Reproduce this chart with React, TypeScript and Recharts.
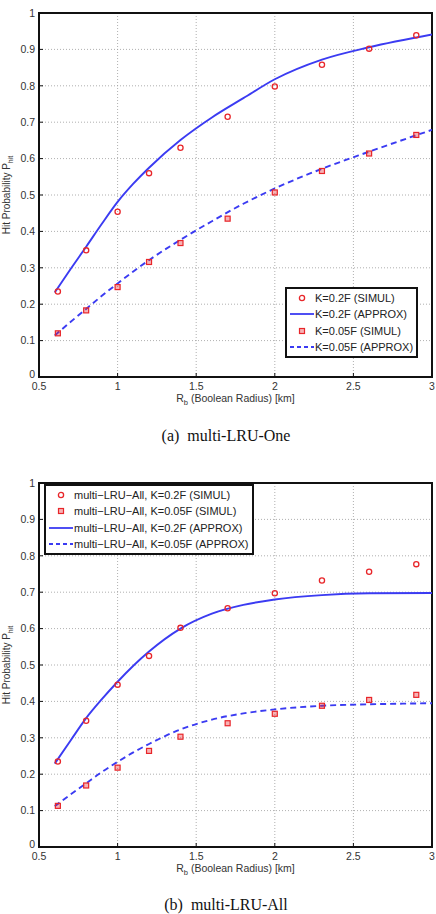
import React from "react";
import {
  CartesianGrid,
  ComposedChart,
  Legend,
  Line,
  ReferenceArea,
  Scatter,
  XAxis,
  YAxis,
} from "recharts";

// boolean radius [km] for simulated points and approximation curves
const simR = [0.62, 0.8, 1.0, 1.2, 1.4, 1.7, 2.0, 2.3, 2.6, 2.9];
const approxR = [0.6, 0.7, 0.8, 0.9, 1.0, 1.1, 1.2, 1.4, 1.6, 1.8, 2.0, 2.3, 2.6, 3.0];

// (a) multi-LRU-One
const oneSimK02 = [0.235, 0.348, 0.454, 0.56, 0.63, 0.715, 0.798, 0.858, 0.902, 0.939];
const oneSimK005 = [0.12, 0.183, 0.247, 0.316, 0.368, 0.435, 0.507, 0.566, 0.614, 0.665];
const oneApproxK02 = [0.232, 0.296, 0.358, 0.421, 0.481, 0.531, 0.575, 0.651, 0.713, 0.766, 0.818, 0.872, 0.906, 0.941];
const oneApproxK005 = [0.114, 0.151, 0.187, 0.223, 0.257, 0.29, 0.321, 0.377, 0.428, 0.476, 0.518, 0.572, 0.619, 0.679];

// (b) multi-LRU-All
const allSimK02 = [0.235, 0.347, 0.446, 0.525, 0.602, 0.656, 0.697, 0.732, 0.756, 0.777];
const allSimK005 = [0.113, 0.169, 0.218, 0.264, 0.303, 0.34, 0.366, 0.388, 0.404, 0.418];
const allApproxK02 = [0.229, 0.292, 0.354, 0.406, 0.454, 0.498, 0.537, 0.6, 0.641, 0.665, 0.68, 0.692, 0.697, 0.698];
const allApproxK005 = [0.112, 0.144, 0.175, 0.206, 0.234, 0.26, 0.283, 0.323, 0.35, 0.367, 0.378, 0.388, 0.392, 0.395];

const xTicks = [0.5, 1, 1.5, 2, 2.5, 3];
const yTicks = [0, 0.1, 0.2, 0.3, 0.4, 0.5, 0.6, 0.7, 0.8, 0.9, 1];

const oneLabels = ["K=0.2F (SIMUL)", "K=0.2F (APPROX)", "K=0.05F (SIMUL)", "K=0.05F (APPROX)"];
const allLabels = [
  "multi\u2212LRU\u2212All, K=0.2F (SIMUL)",
  "multi\u2212LRU\u2212All, K=0.05F (SIMUL)",
  "multi\u2212LRU\u2212All, K=0.2F (APPROX)",
  "multi\u2212LRU\u2212All, K=0.05F (APPROX)",
];

const RED = "#e8262a";
const BLUE = "#3b3bf2";
const FONT = "'Liberation Sans', Arial, sans-serif";

const pts = (xs: number[], ys: number[]) => xs.map((x, i) => ({ x, y: ys[i] }));

type Kind = "circle" | "square" | "solid" | "dashed";

function CircleMark(p: any) {
  return <circle cx={p.cx} cy={p.cy} r={2.6} fill="none" stroke={RED} strokeWidth={1.3} />;
}

function SquareMark(p: any) {
  return (
    <rect x={p.cx - 2.5} y={p.cy - 2.5} width={5} height={5} fill="rgba(232,38,42,0.35)" stroke={RED} strokeWidth={1.2} />
  );
}

function Icon({ kind }: { kind: Kind }) {
  return (
    <svg width={24} height={12} style={{ flex: "none" }}>
      {kind === "circle" && <circle cx={12} cy={6} r={2.6} fill="none" stroke={RED} strokeWidth={1.3} />}
      {kind === "square" && (
        <rect x={9.5} y={3.5} width={5} height={5} fill="rgba(232,38,42,0.35)" stroke={RED} strokeWidth={1.2} />
      )}
      {kind === "solid" && <line x1={0} y1={6} x2={24} y2={6} stroke={BLUE} strokeWidth={1.8} />}
      {kind === "dashed" && <line x1={0} y1={6} x2={24} y2={6} stroke={BLUE} strokeWidth={1.8} strokeDasharray="4 3" />}
    </svg>
  );
}

function LegendBox({ items }: { items: { kind: Kind; label: string }[] }) {
  return (
    <div
      style={{
        border: "2px solid #111",
        background: "#fff",
        padding: "1px 3px 1px 3px",
        fontFamily: FONT,
        fontSize: 11,
        color: "#222",
      }}
    >
      {items.map((it) => (
        <div key={it.label} style={{ display: "flex", alignItems: "center", height: 16.3, whiteSpace: "nowrap" }}>
          <Icon kind={it.kind} />
          <span style={{ marginLeft: 1 }}>{it.label}</span>
        </div>
      ))}
    </div>
  );
}

type PanelProps = {
  top: number;
  simA: number[];
  simB: number[];
  approxA: number[];
  approxB: number[];
  legend: { kind: Kind; label: string }[];
  legendPos: { left: number; top: number };
  caption: string;
  captionTop: number;
};

const tickStyle = { fontSize: 10.5, fill: "#333", fontFamily: FONT };
const blank = () => "";

// y tick labels; the "0" sits a touch higher so it clears the "0.5" below it
function YTick(p: any) {
  const lift = p.payload.value === 0 ? 3 : 0;
  return (
    <text x={p.x} y={p.y - lift} dy="0.355em" textAnchor="end" {...tickStyle}>
      {p.payload.value}
    </text>
  );
}

function Panel(props: PanelProps) {
  const { simA, simB, approxA, approxB } = props;
  return (
    <>
      <div style={{ position: "absolute", left: 0, top: props.top }}>
        <ComposedChart width={436} height={409} margin={{ top: 13, right: 4, bottom: 0, left: 0 }}>
          <CartesianGrid stroke="#9a9a9a" strokeDasharray="1 2" strokeWidth={0.8} />
          <XAxis
            type="number"
            dataKey="x"
            domain={[0.5, 3]}
            ticks={xTicks}
            allowDataOverflow
            height={32}
            tickSize={-4}
            tickMargin={10}
            tickLine={{ stroke: "#111" }}
            axisLine={false}
            tick={tickStyle}
            label={{
              content: ({ viewBox }: any) => (
                <text
                  x={viewBox.x + viewBox.width / 2}
                  y={viewBox.y + 25}
                  textAnchor="middle"
                  fontSize={10.5}
                  fill="#333"
                  fontFamily={FONT}
                >
                  R
                  <tspan dy={3} fontSize={7.5}>
                    b
                  </tspan>
                  <tspan dy={-3}> (Boolean Radius) [km]</tspan>
                </text>
              ),
            }}
          />
          <XAxis
            xAxisId="top"
            orientation="top"
            type="number"
            domain={[0.5, 3]}
            ticks={xTicks}
            allowDataOverflow
            height={0}
            tickSize={-4}
            tickLine={{ stroke: "#111" }}
            tickFormatter={blank}
            axisLine={false}
          />
          <YAxis
            type="number"
            dataKey="y"
            domain={[0, 1]}
            ticks={yTicks}
            allowDataOverflow
            width={39}
            tickSize={-4}
            tickMargin={8}
            tickLine={{ stroke: "#111" }}
            axisLine={false}
            tick={YTick}
            label={{
              content: ({ viewBox }: any) => {
                const cy = viewBox.y + viewBox.height / 2;
                return (
                  <text
                    transform={`translate(10, ${cy}) rotate(-90)`}
                    textAnchor="middle"
                    fontSize={10}
                    fill="#333"
                    fontFamily={FONT}
                  >
                    Hit Probability P
                    <tspan dy={3} fontSize={7}>
                      hit
                    </tspan>
                  </text>
                );
              },
            }}
          />
          <YAxis
            yAxisId="right"
            orientation="right"
            type="number"
            domain={[0, 1]}
            ticks={yTicks}
            allowDataOverflow
            width={0}
            tickSize={-4}
            tickLine={{ stroke: "#111" }}
            tickFormatter={blank}
            axisLine={false}
          />
          <Line
            data={pts(approxR, approxA)}
            dataKey="y"
            type="monotone"
            stroke={BLUE}
            strokeWidth={1.9}
            dot={false}
            activeDot={false}
            isAnimationActive={false}
          />
          <Line
            data={pts(approxR, approxB)}
            dataKey="y"
            type="monotone"
            stroke={BLUE}
            strokeWidth={1.9}
            strokeDasharray="6 4"
            dot={false}
            activeDot={false}
            isAnimationActive={false}
          />
          <Scatter data={pts(simR, simA)} shape={CircleMark} isAnimationActive={false} />
          <Scatter data={pts(simR, simB)} shape={SquareMark} isAnimationActive={false} />
          <ReferenceArea x1={0.5} x2={3} y1={0} y2={1} fill="none" stroke="#111" strokeWidth={2} />
          <Legend
            layout="horizontal"
            verticalAlign="middle"
            align="center"
            wrapperStyle={{ position: "absolute", left: props.legendPos.left, top: props.legendPos.top, width: "auto" }}
            content={() => <LegendBox items={props.legend} />}
          />
        </ComposedChart>
      </div>
      <div
        style={{
          position: "absolute",
          left: 0,
          width: 452,
          top: props.captionTop,
          textAlign: "center",
          fontFamily: "'Liberation Serif', 'Times New Roman', serif",
          fontSize: 16,
          color: "#111",
          whiteSpace: "pre",
        }}
      >
        {props.caption}
      </div>
    </>
  );
}

export default function App() {
  return (
    <div style={{ position: "absolute", left: 0, top: 0, width: 436, height: 914, background: "#fff" }}>
      <Panel
        top={0}
        simA={oneSimK02}
        simB={oneSimK005}
        approxA={oneApproxK02}
        approxB={oneApproxK005}
        legend={[
          { kind: "circle", label: oneLabels[0] },
          { kind: "solid", label: oneLabels[1] },
          { kind: "square", label: oneLabels[2] },
          { kind: "dashed", label: oneLabels[3] },
        ]}
        legendPos={{ left: 285, top: 287 }}
        caption="(a)  multi-LRU-One"
        captionTop={427}
      />
      <Panel
        top={470}
        simA={allSimK02}
        simB={allSimK005}
        approxA={allApproxK02}
        approxB={allApproxK005}
        legend={[
          { kind: "circle", label: allLabels[0] },
          { kind: "square", label: allLabels[1] },
          { kind: "solid", label: allLabels[2] },
          { kind: "dashed", label: allLabels[3] },
        ]}
        legendPos={{ left: 44, top: 14 }}
        caption="(b)  multi-LRU-All"
        captionTop={896}
      />
    </div>
  );
}
